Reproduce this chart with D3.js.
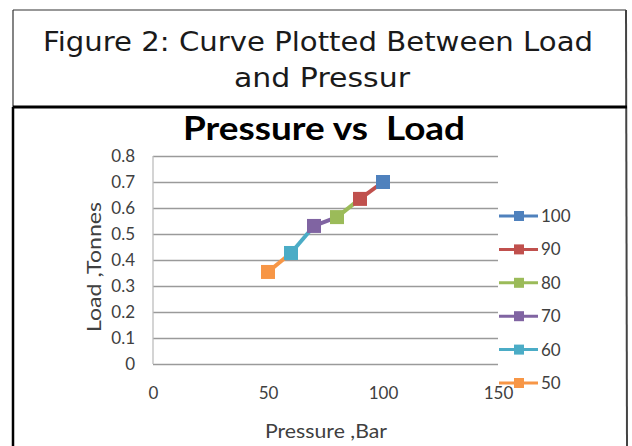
<!DOCTYPE html>
<html>
<head>
<meta charset="utf-8">
<script src="https://cdn.jsdelivr.net/npm/d3@7"></script>
<style>
  body { margin: 0; background: #fff; }
  svg { display: block; }
</style>
</head>
<body>
<div id="chart"></div>
<script>
// values
var pressures = [50, 60, 70, 80, 90, 100];
var loads = [0.354, 0.427, 0.531, 0.565, 0.635, 0.70];
var seriesNames = ["50", "60", "70", "80", "90", "100"];
var legendOrder = ["100", "90", "80", "70", "60", "50"];
var xTicks = [0, 50, 100, 150];
var yTicks = [0, 0.1, 0.2, 0.3, 0.4, 0.5, 0.6, 0.7, 0.8];

var palette = {
  "100": "#4F81BD", "90": "#C0504D", "80": "#9BBB59",
  "70": "#8064A2", "60": "#4BACC6", "50": "#F79646"
};

var w = 632, h = 446;
var svg = d3.select("#chart").append("svg").attr("width", w).attr("height", h);

// figure frame
svg.append("line").attr("x1", 13).attr("y1", 10).attr("x2", 626).attr("y2", 10)
  .attr("stroke", "#333").attr("stroke-width", 1.2);
svg.append("line").attr("x1", 13).attr("y1", 10).attr("x2", 13).attr("y2", 107)
  .attr("stroke", "#333").attr("stroke-width", 1.2);
svg.append("line").attr("x1", 13).attr("y1", 107).attr("x2", 13).attr("y2", h)
  .attr("stroke", "#000").attr("stroke-width", 2.5);
svg.append("line").attr("x1", 626).attr("y1", 10).attr("x2", 627).attr("y2", h)
  .attr("stroke", "#444").attr("stroke-width", 2);
svg.append("line").attr("x1", 13).attr("y1", 107).attr("x2", 627).attr("y2", 107)
  .attr("stroke", "#000").attr("stroke-width", 3);

// caption
svg.append("text").text("Figure 2: Curve Plotted Between Load")
  .attr("x", 43).attr("y", 51)
  .attr("textLength", 550).attr("lengthAdjust", "spacingAndGlyphs")
  .attr("font-family", "DejaVu Sans").attr("font-size", "26px")
  .attr("fill", "#1a1a1a");
svg.append("text").text("and Pressur")
  .attr("x", 234).attr("y", 87)
  .attr("textLength", 176).attr("lengthAdjust", "spacingAndGlyphs")
  .attr("font-family", "DejaVu Sans").attr("font-size", "26px")
  .attr("fill", "#1a1a1a");

// chart
var x = d3.scaleLinear().domain([0, 150]).range([153, 498]);
var y = d3.scaleLinear().domain([0, 0.8]).range([364, 156]);

svg.append("text").text("Pressure vs  Load")
  .attr("x", 324).attr("y", 140).attr("text-anchor", "middle")
  .style("white-space", "pre")
  .attr("textLength", 282).attr("lengthAdjust", "spacingAndGlyphs")
  .attr("font-family", "Lato").attr("font-weight", "bold")
  .attr("font-size", "32px").attr("fill", "#000");

var yAxis = svg.append("g").attr("transform", "translate(" + x(0) + ",0)")
  .call(d3.axisLeft(y).tickValues(yTicks)
    .tickFormat(function (d) { return d === 0 ? "0" : d3.format(".1f")(d); })
    .tickSize(-(x(150) - x(0))).tickPadding(18));
yAxis.select(".domain").remove();
yAxis.selectAll(".tick line").attr("stroke", "#9a9a9a").attr("stroke-width", 1.3);
yAxis.selectAll("text").attr("font-family", "Lato").attr("font-size", "17px").attr("fill", "#404040");

svg.append("line").attr("x1", x(0)).attr("x2", x(0)).attr("y1", y(0.8)).attr("y2", y(0))
  .attr("stroke", "#bdbdbd").attr("stroke-width", 1.3);

var xAxis = svg.append("g").attr("transform", "translate(0," + y(0) + ")")
  .call(d3.axisBottom(x).tickValues(xTicks).tickSize(0).tickPadding(23));
xAxis.select(".domain").remove();
xAxis.selectAll("text").attr("font-family", "Lato").attr("font-size", "17px").attr("fill", "#404040");

svg.append("text").text("Pressure ,Bar")
  .attr("x", 326).attr("y", 438).attr("text-anchor", "middle")
  .attr("textLength", 122).attr("lengthAdjust", "spacingAndGlyphs")
  .attr("font-family", "Lato").attr("font-size", "19px").attr("fill", "#404040");

svg.append("text").text("Load ,Tonnes")
  .attr("transform", "translate(101,267) rotate(-90)").attr("text-anchor", "middle")
  .attr("textLength", 130).attr("lengthAdjust", "spacingAndGlyphs")
  .attr("font-family", "Lato").attr("font-size", "19px").attr("fill", "#404040");

// connecting segments, each in the colour of its lower point
var pts = pressures.map(function (p, i) { return { p: p, v: loads[i], name: seriesNames[i] }; });
var segs = d3.pairs(pts);
svg.selectAll("line.seg").data(segs).enter().append("line").attr("class", "seg")
  .attr("x1", function (d) { return x(d[0].p); })
  .attr("y1", function (d) { return y(d[0].v); })
  .attr("x2", function (d) { return x(d[1].p); })
  .attr("y2", function (d) { return y(d[1].v); })
  .attr("stroke", function (d) { return palette[d[0].name]; })
  .attr("stroke-width", 4);

svg.selectAll("rect.pt").data(pts).enter().append("rect").attr("class", "pt")
  .attr("x", function (d) { return x(d.p) - 7; })
  .attr("y", function (d) { return y(d.v) - 7; })
  .attr("width", 14).attr("height", 14)
  .attr("fill", function (d) { return palette[d.name]; });

// legend
var ly = d3.scalePoint().domain(legendOrder).range([216, 383]);
var leg = svg.selectAll("g.leg").data(legendOrder).enter().append("g").attr("class", "leg")
  .attr("transform", function (d) { return "translate(0," + ly(d) + ")"; });
leg.append("line").attr("x1", 499).attr("x2", 538).attr("y1", 0).attr("y2", 0)
  .attr("stroke", function (d) { return palette[d]; }).attr("stroke-width", 3);
leg.append("rect").attr("x", 514).attr("y", -5).attr("width", 10).attr("height", 10)
  .attr("fill", function (d) { return palette[d]; });
leg.append("text").text(function (d) { return d; })
  .attr("x", 541).attr("y", 0).attr("dy", "0.35em")
  .attr("font-family", "Lato").attr("font-size", "17px").attr("fill", "#404040");
</script>
</body>
</html>
